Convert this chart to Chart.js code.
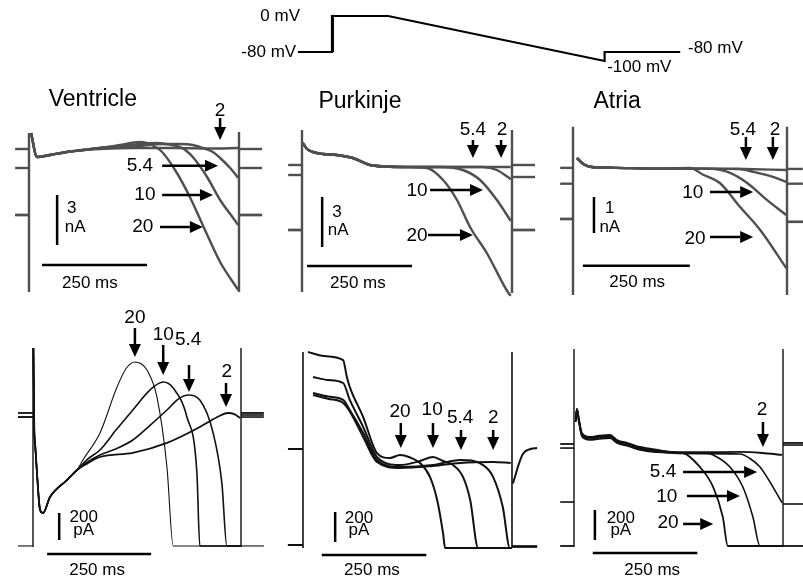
<!DOCTYPE html>
<html>
<head>
<meta charset="utf-8">
<script src="https://cdn.jsdelivr.net/npm/chart.js@4.4.1/dist/chart.umd.min.js"></script>
<style>
  body { margin: 0; background: #fff; width: 803px; height: 583px; overflow: hidden; position: relative; }
  canvas { position: absolute; }
</style>
</head>
<body>
<canvas id="proto"></canvas>
<canvas id="vt"></canvas>
<canvas id="pt"></canvas>
<canvas id="at"></canvas>
<canvas id="vb"></canvas>
<canvas id="pb"></canvas>
<canvas id="ab"></canvas>
<script>
// extracellular K+ (mM) of each trace, same order in every array below
const KO = ['2', '5.4', '10', '20'];

// --- voltage protocol: time (ms), voltage (mV) ---
const PROTO_T = [-79, 0, 0, 130, 631, 631, 806];
const PROTO_V = [-80, -80, 0, 0, -100, -80, -80];

// --- Ventricle, top row (ms, nA) ---
const VT_K2   = [[5,0.96],[19,-0.48],[50,-0.36],[90,-0.18],[129,-0.06],[169,0],[250,0.06],[350,0.06],[430,0.03],[498,0.06]];
const VT_K5_4 = [[5,0.96],[19,-0.48],[50,-0.36],[90,-0.18],[129,-0.06],[169,0.06],[217,0.12],[264,0.18],[314,0.3],[360,0.3],[390,0.24],[414,0.06],[438,-0.18],[455,-0.54],[479,-1.14],[498,-1.74]];
const VT_K10  = [[5,0.96],[19,-0.48],[50,-0.36],[90,-0.18],[129,-0.06],[169,0.06],[217,0.18],[264,0.3],[305,0.36],[340,0.24],[360,0.12],[375,-0.12],[390,-0.48],[424,-1.68],[455,-3.06],[486,-4.14],[498,-4.56]];
const VT_K20  = [[5,0.96],[19,-0.48],[50,-0.36],[90,-0.18],[129,-0.06],[169,0.06],[217,0.24],[250,0.4],[264,0.42],[280,0.36],[293,0.24],[317,-0.18],[350,-1.35],[383,-2.88],[419,-4.86],[455,-6.78],[498,-8.46]];
const VT_HOLD_PRE  = [0, -1.14, -3.96, -3.96];
const VT_HOLD_POST = [0, -1.14, -3.96, -3.96];

// --- Purkinje, top row (ms, nA) ---
const PT_K2   = [[2,1.32],[12,0.96],[26,0.78],[50,0.66],[83,0.6],[121,0.42],[162,0],[200,-0.09],[240,-0.12],[300,-0.12],[400,-0.12],[497,-0.12]];
const PT_K5_4 = [[2,1.32],[12,0.96],[26,0.78],[50,0.66],[83,0.6],[121,0.42],[162,0],[200,-0.09],[240,-0.12],[300,-0.12],[430,-0.12],[464,-0.3],[490,-0.72],[497,-0.85]];
const PT_K10  = [[2,1.32],[12,0.96],[26,0.78],[50,0.66],[83,0.6],[121,0.42],[162,0],[200,-0.09],[240,-0.12],[330,-0.12],[383,-0.3],[424,-0.9],[464,-2.1],[497,-3.35]];
const PT_K20  = [[2,1.32],[12,0.96],[26,0.78],[50,0.66],[83,0.6],[121,0.42],[162,0],[200,-0.09],[240,-0.12],[280,-0.15],[298,-0.18],[336,-0.9],[369,-2.1],[400,-3.72],[440,-5.28],[490,-7.62],[497,-7.85]];
const PT_HOLD_PRE  = [0, -0.6, -3.9, -3.9];
const PT_HOLD_POST = [0, -0.72, -3.9, -3.9];

// --- Atria, top row (ms, nA) ---
const AT_K2   = [[9,0.28],[25,0.1],[40,0.03],[100,0],[200,-0.02],[300,-0.02],[400,-0.03],[498,-0.06]];
const AT_K5_4 = [[9,0.28],[25,0.1],[40,0.03],[100,0],[200,-0.02],[300,-0.02],[390,-0.03],[421,-0.11],[467,-0.25],[498,-0.39]];
const AT_K10  = [[9,0.28],[25,0.1],[40,0.03],[100,0],[200,-0.02],[290,-0.02],[332,-0.03],[367,-0.14],[407,-0.42],[453,-0.89],[498,-1.31]];
const AT_K20  = [[9,0.28],[25,0.1],[40,0.03],[100,0],[200,-0.02],[273,0],[304,-0.19],[343,-0.42],[390,-1.08],[437,-1.72],[498,-2.78]];
const AT_HOLD_PRE  = [0, -0.44, -1.42, -1.42];
const AT_HOLD_POST = [-0.03, -0.44, -1.5, -1.5];

// --- Ventricle, bottom row (ms, pA) ---
const VB_K2   = [[1,496],[3,-100],[5,-207],[10,-450],[17,-704],[24,-726],[41,-607],[82,-481],[106,-407],[130,-360],[161,-311],[240,-281],[322,-207],[401,-89],[440,-20],[469,15],[485,5],[498,-22]];
const VB_K5_4 = [[1,496],[3,-100],[5,-207],[10,-450],[17,-704],[24,-726],[41,-607],[82,-481],[106,-407],[130,-350],[161,-296],[200,-250],[240,-185],[280,-80],[322,37],[350,120],[373,148],[401,111],[433,-133],[454,-504],[466,-970],[500,-970]];
const VB_K10  = [[1,496],[3,-100],[5,-207],[10,-450],[17,-704],[24,-726],[41,-607],[82,-481],[106,-407],[130,-330],[161,-259],[200,-110],[240,37],[281,185],[313,244],[337,200],[370,-15],[394,-430],[401,-970],[500,-970]];
const VB_K20  = [[1,496],[3,-100],[5,-207],[10,-450],[17,-704],[24,-726],[41,-607],[82,-481],[106,-407],[120,-333],[161,-133],[202,207],[225,350],[245,393],[260,380],[274,333],[298,133],[322,-385],[337,-970],[500,-970]];
const VB_HOLD_PRE  = [15, -15, -15, -970];
const VB_HOLD_POST = [15, -15, 0, -970];

// --- Purkinje, bottom row (ms, pA) ---
const PB_K2   = [[24,360],[60,335],[96,307],[112,250],[144,80],[177,-87],[232,-127],[311,-113],[376,-93],[455,-87],[497,-93]];
const PB_K5_4 = [[24,373],[60,350],[96,327],[112,260],[144,107],[177,-73],[232,-120],[311,-107],[376,-73],[431,-107],[455,-187],[478,-387],[495,-660],[500,-660]];
const PB_K10  = [[24,480],[60,460],[96,440],[112,327],[144,147],[177,-53],[232,-107],[280,-80],[311,-53],[335,-80],[359,-107],[383,-187],[400,-340],[419,-660],[500,-660]];
const PB_K20  = [[12,647],[50,620],[96,593],[105,480],[112,413],[144,213],[177,-27],[208,-60],[232,-40],[255,-55],[280,-93],[304,-187],[321,-340],[335,-560],[340,-660],[500,-660]];
const PB_HOLD_PRE  = [0, -640, -640, -640];
const PB_POST_K2   = [[502,-230],[507,-187],[514,-120],[526,-33],[545,0],[560,7]];
const PB_HOLD_POST = [PB_POST_K2, -650, -650, -650];

// --- Atria, bottom row (ms, pA) ---
const AB_K2   = [[4,150],[7,233],[12,160],[19,73],[38,47],[60,55],[86,60],[103,27],[130,5],[158,-20],[200,-40],[237,-53],[300,-55],[397,-53],[450,-60],[498,-73]];
const AB_K5_4 = [[4,150],[7,233],[12,150],[19,60],[38,33],[60,40],[86,45],[103,13],[130,-8],[158,-33],[200,-50],[237,-62],[300,-64],[397,-67],[420,-95],[445,-153],[476,-287],[498,-393]];
const AB_K10  = [[4,150],[7,233],[12,140],[19,50],[38,27],[60,33],[86,38],[103,7],[130,-15],[158,-40],[200,-55],[237,-60],[290,-60],[318,-62],[333,-73],[373,-153],[404,-287],[428,-487],[445,-680],[500,-680]];
const AB_K20  = [[4,150],[7,233],[12,155],[19,65],[38,40],[60,48],[86,52],[103,20],[130,0],[158,-27],[200,-45],[237,-55],[261,-60],[301,-153],[333,-287],[356,-487],[368,-680],[500,-680]];
const AB_HOLD_PRE  = [0, -387, -27, -680];
const AB_HOLD_POST = [7, -400, -7, -680];

const FONT = '"Liberation Sans", Arial, sans-serif';
const NUM = 19;   // size of the [K+] labels
const SMALL = 17; // scale bar and protocol labels

// draws labels, arrows and scale bars in data units
const marksPlugin = {
  id: 'marks',
  afterDatasetsDraw(chart, args, opts) {
    const ctx = chart.ctx;
    const sx = chart.scales.x, sy = chart.scales.y;
    const px = t => sx.getPixelForValue(t);
    const py = v => sy.getPixelForValue(v);
    ctx.save();
    ctx.fillStyle = '#000';
    ctx.strokeStyle = '#000';
    (opts.bars || []).forEach(b => {
      ctx.lineWidth = 2.5;
      ctx.beginPath();
      ctx.moveTo(px(b[0]), py(b[1]));
      ctx.lineTo(px(b[0] + b[2]), py(b[1] + b[3]));
      ctx.stroke();
    });
    (opts.arrows || []).forEach(a => {
      const x1 = px(a[0]), y1 = py(a[1]), x2 = px(a[2]), y2 = py(a[3]);
      const ang = Math.atan2(y2 - y1, x2 - x1);
      const len = 13, half = 6;
      const bx = x2 - len * Math.cos(ang), by = y2 - len * Math.sin(ang);
      ctx.lineWidth = 2.5;
      ctx.beginPath();
      ctx.moveTo(x1, y1);
      ctx.lineTo(bx, by);
      ctx.stroke();
      ctx.beginPath();
      ctx.moveTo(x2, y2);
      ctx.lineTo(bx + half * Math.sin(ang), by - half * Math.cos(ang));
      ctx.lineTo(bx - half * Math.sin(ang), by + half * Math.cos(ang));
      ctx.closePath();
      ctx.fill();
    });
    (opts.texts || []).forEach(t => {
      ctx.font = (t.size || NUM) + 'px ' + FONT;
      ctx.textAlign = t.align || 'center';
      ctx.textBaseline = 'middle';
      ctx.fillText(t.s, px(t.t), py(t.v));
    });
    ctx.restore();
  }
};

function place(id, box) {
  const c = document.getElementById(id);
  c.width = box[2];
  c.height = box[3];
  c.style.left = box[0] + 'px';
  c.style.top = box[1] + 'px';
  return c;
}

function baseOptions(xr, yr, marks) {
  return {
    responsive: false,
    animation: false,
    devicePixelRatio: 1,
    layout: { padding: 0 },
    elements: { point: { radius: 0 }, line: { tension: 0 } },
    scales: {
      x: { type: 'linear', min: xr[0], max: xr[1], display: false },
      y: { type: 'linear', min: yr[0], max: yr[1], display: false }
    },
    plugins: { legend: { display: false }, tooltip: { enabled: false }, marks: marks }
  };
}

const pts = arr => arr.map(p => ({ x: p[0], y: p[1] }));

function drawPanel(p) {
  const ds = [];
  p.traces.forEach((tr, i) => {
    const style = { borderColor: p.color, borderWidth: p.widths[i], pointRadius: 0, fill: false };
    ds.push({ ...style, data: [{ x: p.stub[0], y: p.pre[i] }, { x: 0, y: p.pre[i] }] });
    ds.push({ ...style, cubicInterpolationMode: 'monotone', data: pts(tr) });
    const post = p.post[i];
    if (Array.isArray(post)) {
      ds.push({ ...style, cubicInterpolationMode: 'monotone', data: pts(post) });
    } else {
      ds.push({ ...style, data: [{ x: 500, y: post }, { x: p.stub[1], y: post }] });
    }
  });
  p.transients.forEach(tr => {
    ds.push({ borderColor: p.color, borderWidth: p.tWidth, pointRadius: 0,
      data: [{ x: tr[0], y: tr[1] }, { x: tr[0], y: tr[2] }] });
  });
  new Chart(place(p.id, p.box), {
    type: 'line',
    data: { datasets: ds },
    options: baseOptions(p.x, p.y, p.marks),
    plugins: [marksPlugin]
  });
}

// protocol
new Chart(place('proto', [230, 0, 530, 80]), {
  type: 'line',
  data: { datasets: [{
    data: PROTO_T.map((t, i) => ({ x: t, y: PROTO_V[i] })),
    borderColor: '#000', borderWidth: 2.2, pointRadius: 0
  }, {
    data: [{ x: 2, y: -80 }, { x: 2, y: 0 }],
    borderColor: '#000', borderWidth: 2.2, pointRadius: 0
  }] },
  options: baseOptions([-236.1, 990.7], [-142.2, 35.6], {
    texts: [
      { t: -74, v: 0, s: '0 mV', size: SMALL, align: 'right' },
      { t: -83, v: -80, s: '-80 mV', size: SMALL, align: 'right' },
      { t: 637, v: -115, s: '-100 mV', size: SMALL, align: 'left' },
      { t: 824, v: -71, s: '-80 mV', size: SMALL, align: 'left' }
    ]
  }),
  plugins: [marksPlugin]
});

const TOP_COLOR = '#4f4f4f';
const BOT_COLOR = '#111';

drawPanel({
  id: 'vt', box: [0, 80, 270, 220], x: [-69.0, 573.8], y: [-9.06, 4.14],
  traces: [VT_K2, VT_K5_4, VT_K10, VT_K20], pre: VT_HOLD_PRE, post: VT_HOLD_POST,
  stub: [-33, 555], transients: [[0, 0.96, -8.58], [500, 1.02, -8.58]],
  color: TOP_COLOR, widths: [2.4, 2.4, 2.4, 2.4], tWidth: 2.4,
  marks: {
    texts: [
      { t: 152, v: 2.94, s: 'Ventricle', size: 23 },
      { t: 455, v: 2.28, s: KO[0] }, { t: 264, v: -1.0, s: KO[1] },
      { t: 276, v: -2.76, s: KO[2] }, { t: 271, v: -4.68, s: KO[3] },
      { t: 102, v: -3.54, s: '3', size: SMALL }, { t: 110, v: -4.68, s: 'nA', size: SMALL },
      { t: 145, v: -8.04, s: '250 ms', size: SMALL }
    ],
    arrows: [[455, 1.86, 455, 0.54], [317, -1.0, 450, -1.0], [317, -2.76, 438, -2.76], [312, -4.68, 414, -4.68]],
    bars: [[67, -2.76, 0, -3], [31, -6.96, 250, 0]]
  }
});

drawPanel({
  id: 'pt', box: [270, 80, 270, 220], x: [-76.2, 566.7], y: [-8.10, 5.10],
  traces: [PT_K2, PT_K5_4, PT_K10, PT_K20], pre: PT_HOLD_PRE, post: PT_HOLD_POST,
  stub: [-33, 555], transients: [[0, 2.1, -7.62], [500, 2.1, -7.68]],
  color: TOP_COLOR, widths: [2.4, 2.4, 2.4, 2.4], tWidth: 2.4,
  marks: {
    texts: [
      { t: 138, v: 3.78, s: 'Purkinje', size: 23 },
      { t: 407, v: 2.1, s: KO[1] }, { t: 476, v: 2.1, s: KO[0] },
      { t: 274, v: -1.56, s: KO[2] }, { t: 274, v: -4.26, s: KO[3] },
      { t: 83, v: -2.82, s: '3', size: SMALL }, { t: 86, v: -3.9, s: 'nA', size: SMALL },
      { t: 133, v: -7.08, s: '250 ms', size: SMALL }
    ],
    arrows: [[407, 1.5, 407, 0.42], [474, 1.5, 474, 0.42], [305, -1.5, 431, -1.5], [300, -4.2, 407, -4.2]],
    bars: [[48, -1.92, 0, -3], [12, -6.06, 250, 0]]
  }
});

drawPanel({
  id: 'at', box: [540, 80, 263, 220], x: [-77.1, 537.4], y: [-3.67, 2.44],
  traces: [AT_K2, AT_K5_4, AT_K10, AT_K20], pre: AT_HOLD_PRE, post: AT_HOLD_POST,
  stub: [-30, 537], transients: [[0, 1.14, -3.53], [500, 1.14, -3.53]],
  color: TOP_COLOR, widths: [2.4, 2.4, 2.4, 2.4], tWidth: 2.4,
  marks: {
    texts: [
      { t: 103, v: 1.83, s: 'Atria', size: 23 },
      { t: 397, v: 1.06, s: KO[1] }, { t: 472, v: 1.06, s: KO[0] },
      { t: 280, v: -0.69, s: KO[2] }, { t: 285, v: -1.97, s: KO[3] },
      { t: 86, v: -1.11, s: '1', size: SMALL }, { t: 86, v: -1.64, s: 'nA', size: SMALL },
      { t: 150, v: -3.17, s: '250 ms', size: SMALL }
    ],
    arrows: [[404, 0.86, 404, 0.22], [467, 0.86, 467, 0.22], [320, -0.67, 421, -0.67], [320, -1.92, 421, -1.92]],
    bars: [[49, -0.81, 0, -1], [23, -2.72, 250, 0]]
  }
});

drawPanel({
  id: 'vb', box: [0, 300, 270, 283], x: [-79.3, 569.7], y: [-1244.4, 851.9],
  traces: [VB_K2, VB_K5_4, VB_K10, VB_K20], pre: VB_HOLD_PRE, post: VB_HOLD_POST,
  stub: [-36, 555], transients: [[0, 496, -978], [500, 496, -978]],
  color: BOT_COLOR, widths: [1.8, 1.6, 1.6, 1.1], tWidth: 1.4,
  marks: {
    texts: [
      { t: 245, v: 719, s: KO[3] }, { t: 313, v: 593, s: KO[2] },
      { t: 373, v: 556, s: KO[1] }, { t: 466, v: 319, s: KO[0] },
      { t: 122, v: -756, s: '200', size: SMALL }, { t: 122, v: -852, s: 'pA', size: SMALL },
      { t: 154, v: -1148, s: '250 ms', size: SMALL }
    ],
    arrows: [[245, 644, 245, 430], [313, 519, 313, 296], [375, 370, 375, 170], [464, 237, 464, 59]],
    bars: [[63, -726, 0, -200], [34, -1030, 250, 0]]
  }
});

drawPanel({
  id: 'pb', box: [270, 300, 270, 283], x: [-78.9, 567.0], y: [-893.3, 993.3],
  traces: [PB_K2, PB_K5_4, PB_K10, PB_K20], pre: PB_HOLD_PRE, post: PB_HOLD_POST,
  stub: [-36, 560], transients: [[0, 647, -660], [500, 647, -660]],
  color: BOT_COLOR, widths: [2, 2, 2, 2], tWidth: 1.6,
  marks: {
    texts: [
      { t: 232, v: 247, s: KO[3] }, { t: 309, v: 260, s: KO[2] },
      { t: 376, v: 207, s: KO[1] }, { t: 455, v: 207, s: KO[0] },
      { t: 134, v: -460, s: '200', size: SMALL }, { t: 134, v: -540, s: 'pA', size: SMALL },
      { t: 165, v: -807, s: '250 ms', size: SMALL }
    ],
    arrows: [[234, 173, 234, 7], [311, 173, 311, 7], [378, 127, 378, -7], [455, 127, 455, -7]],
    bars: [[77, -420, 0, -200], [45, -707, 250, 0]]
  }
});

drawPanel({
  id: 'ab', box: [540, 300, 263, 283], x: [-81.3, 547.8], y: [-926.7, 960],
  traces: [AB_K2, AB_K5_4, AB_K10, AB_K20], pre: AB_HOLD_PRE, post: AB_HOLD_POST,
  stub: [-33, 548], transients: [[0, 633, -687], [500, 633, -687]],
  color: BOT_COLOR, widths: [1.8, 1.6, 1.6, 1.8], tWidth: 1.4,
  marks: {
    texts: [
      { t: 450, v: 227, s: KO[0] }, { t: 213, v: -187, s: KO[1] },
      { t: 222, v: -353, s: KO[2] }, { t: 225, v: -527, s: KO[3] },
      { t: 112, v: -493, s: '200', size: SMALL }, { t: 112, v: -573, s: 'pA', size: SMALL },
      { t: 187, v: -840, s: '250 ms', size: SMALL }
    ],
    arrows: [[452, 147, 452, -20], [261, -187, 438, -187], [270, -347, 397, -347], [261, -533, 333, -533]],
    bars: [[50, -440, 0, -200], [45, -727, 250, 0]]
  }
});
</script>
</body>
</html>
